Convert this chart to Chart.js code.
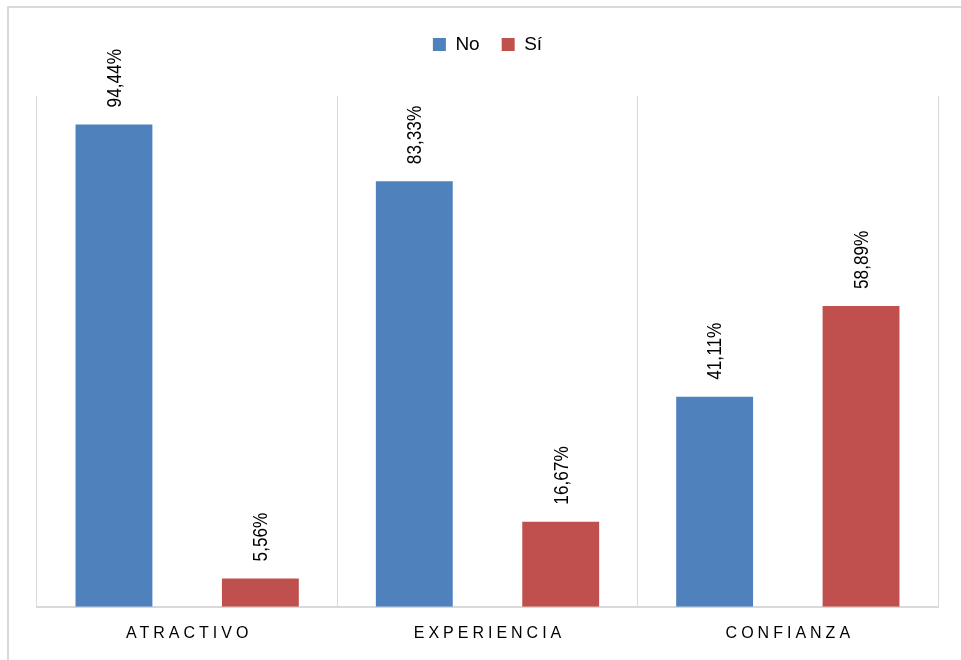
<!DOCTYPE html>
<html>
<head>
<meta charset="utf-8">
<title>Atractivo, experiencia, confianza</title>
<script src="https://cdn.jsdelivr.net/npm/chart.js@4/dist/chart.umd.min.js"></script>
<style>
  html, body { margin: 0; padding: 0; background: #fff; overflow: hidden; }
  .frame {
    position: absolute; left: 7px; top: 6px;
    width: 1100px; height: 800px;
    border: 2px solid #d9d9d9;
  }
  .wrap { position: absolute; left: 0; top: 0; width: 961px; height: 660px; }
</style>
</head>
<body>
<div class="frame"></div>
<div class="wrap"><canvas id="chart"></canvas></div>
<script>
const categories = ['ATRACTIVO', 'EXPERIENCIA', 'CONFIANZA'];
const noValues = [94.44, 83.33, 41.11];
const siValues = [5.56, 16.67, 58.89];

const blue = '#4f81bd';
const red = '#c0504d';
const gridColor = '#d9d9d9';

// percentages written above each bar, rotated and a little condensed
const barLabels = {
  id: 'barLabels',
  afterDatasetsDraw(chart) {
    const ctx = chart.ctx;
    ctx.save();
    ctx.fillStyle = '#000';
    ctx.font = '21px "Liberation Sans", Arial, sans-serif';
    ctx.textAlign = 'left';
    ctx.textBaseline = 'middle';
    chart.data.datasets.forEach((ds, i) => {
      chart.getDatasetMeta(i).data.forEach((bar, j) => {
        const text = ds.data[j].toFixed(2).replace('.', ',') + '%';
        ctx.save();
        ctx.translate(bar.x, bar.y - 17);
        ctx.rotate(-Math.PI / 2);
        ctx.scale(0.82, 1);
        ctx.fillText(text, 0, 1);
        ctx.restore();
      });
    });
    ctx.restore();
  }
};

// spaced-out category names and more room under the legend
const layoutTweaks = {
  id: 'layoutTweaks',
  afterInit(chart) {
    const legend = chart.legend;
    const fit = legend.fit;
    legend.fit = function () {
      fit.call(this);
      this.height += 32;
    };
  },
  afterLayout(chart) {
    const xScale = chart.scales.x;
    if (!xScale || xScale._spaced) return;
    const drawLabels = xScale.drawLabels;
    xScale.drawLabels = function (area) {
      this.ctx.save();
      this.ctx.letterSpacing = '4px';
      this.ctx.translate(2, 0);
      drawLabels.call(this, area);
      this.ctx.restore();
    };
    xScale._spaced = true;
  }
};

new Chart(document.getElementById('chart'), {
  type: 'bar',
  data: {
    labels: categories,
    datasets: [
      { label: 'No', data: noValues, backgroundColor: blue },
      { label: 'Sí', data: siValues, backgroundColor: red }
    ]
  },
  options: {
    responsive: true,
    maintainAspectRatio: false,
    animation: false,
    categoryPercentage: 0.975,
    barPercentage: 0.525,
    layout: { padding: { left: 37, right: 23, top: 13, bottom: 0 } },
    plugins: {
      legend: {
        position: 'top',
        labels: {
          color: '#000',
          boxWidth: 13,
          boxHeight: 13,
          padding: 22,
          font: { family: '"Liberation Sans", Arial, sans-serif', size: 19 }
        }
      },
      tooltip: { enabled: false }
    },
    scales: {
      x: {
        grid: { color: gridColor, lineWidth: 1, drawTicks: false },
        border: { color: gridColor, width: 2 },
        ticks: {
          color: '#000',
          padding: 17,
          font: { family: '"Liberation Sans", Arial, sans-serif', size: 16 }
        }
      },
      y: {
        display: false,
        min: 0,
        max: 100
      }
    }
  },
  plugins: [barLabels, layoutTweaks]
});
</script>
</body>
</html>
